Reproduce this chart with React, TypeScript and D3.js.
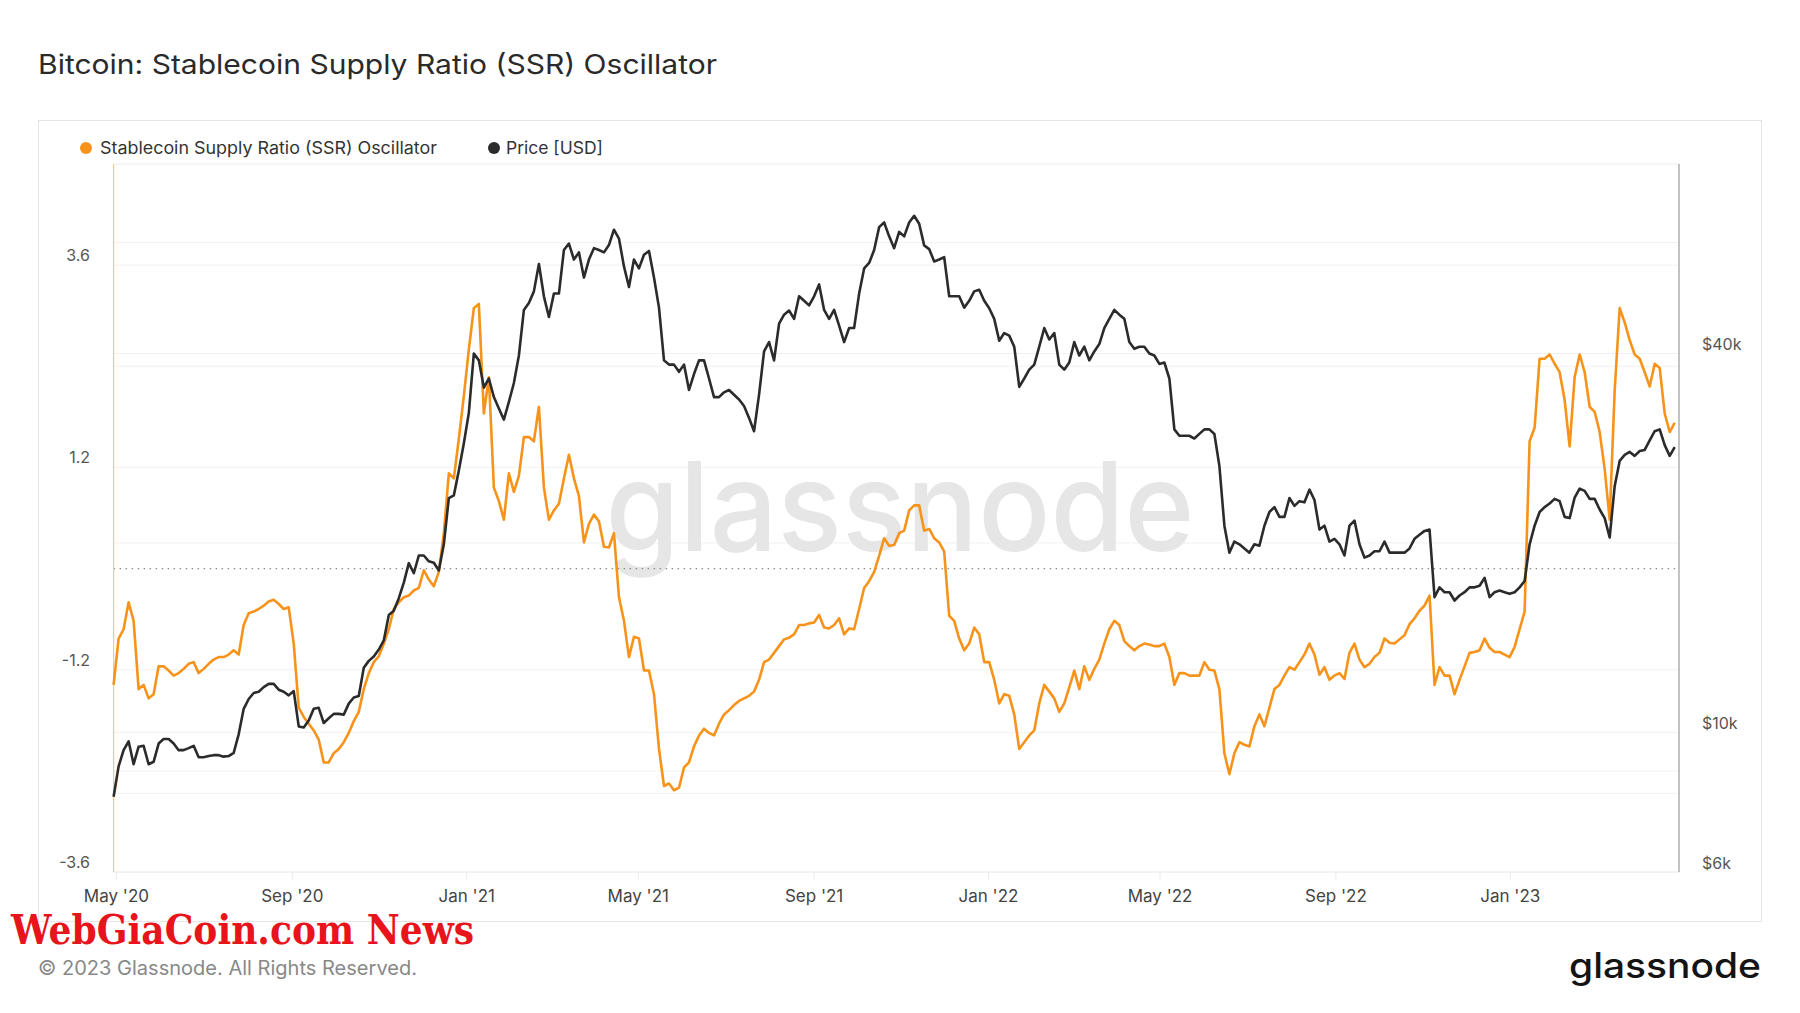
import React from "react";
import * as d3 from "d3";

// readings every half week (84 hours), first point on START_DATE
const START_DATE = "2020-04-29";
const END_DATE = "2023-04-29";
const STEP_HOURS = 84;

// Stablecoin Supply Ratio (SSR) Oscillator
const ssrValues = [
  -1.38, -0.83, -0.72, -0.4, -0.62, -1.43, -1.38, -1.54, -1.49, -1.16,
  -1.16, -1.21, -1.27, -1.24, -1.19, -1.13, -1.11, -1.24, -1.19, -1.13,
  -1.08, -1.05, -1.05, -1.02, -0.97, -1.02, -0.67, -0.53, -0.51, -0.48,
  -0.44, -0.39, -0.37, -0.42, -0.48, -0.46, -0.89, -1.65, -1.76, -1.84,
  -1.92, -2.03, -2.3, -2.3, -2.19, -2.14, -2.06, -1.95, -1.81, -1.7,
  -1.43, -1.24, -1.11, -1.04, -0.89, -0.72, -0.48, -0.4, -0.34, -0.32,
  -0.26, -0.23, -0.02, -0.13, -0.21, -0.04, 0.42, 1.13, 1.07, 1.54,
  2.05, 2.6, 3.09, 3.14, 1.84, 2.27, 0.96, 0.8, 0.58, 1.13,
  0.91, 1.1, 1.56, 1.56, 1.51, 1.92, 0.96, 0.58, 0.69, 0.77,
  1.07, 1.35, 1.07, 0.86, 0.31, 0.53, 0.64, 0.56, 0.26, 0.25,
  0.42, -0.34, -0.62, -1.05, -0.81, -0.83, -1.21, -1.21, -1.49, -2.14,
  -2.58, -2.55, -2.63, -2.6, -2.36, -2.3, -2.11, -1.98, -1.9, -1.95,
  -1.98, -1.84, -1.73, -1.68, -1.62, -1.57, -1.54, -1.51, -1.46, -1.32,
  -1.11, -1.08, -1.0, -0.92, -0.84, -0.82, -0.78, -0.67, -0.67, -0.65,
  -0.64, -0.55, -0.7, -0.71, -0.67, -0.59, -0.78, -0.71, -0.72, -0.48,
  -0.23, -0.15, -0.04, 0.15, 0.36, 0.27, 0.28, 0.42, 0.45, 0.69,
  0.75, 0.75, 0.45, 0.47, 0.36, 0.31, 0.2, -0.56, -0.62, -0.83,
  -0.97, -0.89, -0.7, -0.78, -1.11, -1.11, -1.32, -1.6, -1.49, -1.51,
  -1.73, -2.14, -2.06, -1.98, -1.92, -1.6, -1.38, -1.46, -1.54, -1.7,
  -1.6, -1.41, -1.21, -1.43, -1.16, -1.32, -1.19, -1.08, -0.89, -0.72,
  -0.62, -0.67, -0.86, -0.92, -0.97, -0.92, -0.89, -0.9, -0.92, -0.92,
  -0.89, -1.05, -1.38, -1.24, -1.24, -1.27, -1.27, -1.27, -1.11, -1.2,
  -1.21, -1.43, -2.19, -2.44, -2.19, -2.06, -2.09, -2.11, -1.87, -1.73,
  -1.87, -1.65, -1.43, -1.38, -1.27, -1.17, -1.2, -1.11, -1.02, -0.89,
  -1.02, -1.26, -1.17, -1.32, -1.27, -1.24, -1.31, -1.0, -0.89, -1.08,
  -1.17, -1.13, -1.05, -1.0, -0.83, -0.88, -0.89, -0.84, -0.79, -0.66,
  -0.59, -0.5, -0.44, -0.32, -1.38, -1.17, -1.27, -1.27, -1.49, -1.32,
  -1.16, -1.0, -0.99, -0.97, -0.83, -0.94, -0.99, -0.99, -1.02, -1.05,
  -0.93, -0.72, -0.51, 1.51, 1.67, 2.49, 2.49, 2.54, 2.43, 2.33,
  2.0, 1.45, 2.27, 2.54, 2.33, 1.92, 1.86, 1.62, 1.18, 0.58,
  2.11, 3.09, 2.92, 2.71, 2.54, 2.49, 2.33, 2.16, 2.43, 2.38,
  1.84, 1.62, 1.73,
];

// Price [USD]
const priceValues = [
  7900, 8830, 9370, 9680, 8900, 9490, 9520, 8900, 8980, 9600,
  9760, 9760, 9600, 9370, 9370, 9440, 9520, 9130, 9130, 9170,
  9200, 9200, 9150, 9170, 9280, 9930, 10900, 11300, 11550, 11600,
  11800, 11940, 11940, 11690, 11600, 11450, 11630, 10220, 10180, 10440,
  10900, 10940, 10350, 10530, 10700, 10700, 10670, 11110, 11360, 11420,
  12670, 12990, 13200, 13540, 14000, 15360, 15600, 16340, 17300, 18570,
  17900, 19100, 19100, 18700, 18600, 18080, 19900, 23570, 23800, 26070,
  28800, 32200, 40000, 39000, 35300, 36500, 34100, 32700, 31400, 33500,
  35900, 39700, 46900, 48100, 50200, 55500, 49300, 45700, 49800, 49800,
  58400, 59800, 56400, 57900, 52800, 56400, 58800, 58400, 57900, 59500,
  62900, 60900, 55000, 51000, 56400, 54600, 57400, 58200, 52800, 47300,
  39000, 38400, 38400, 37400, 38400, 35000, 37100, 39000, 39000, 36500,
  34100, 34100, 34700, 35000, 34400, 33800, 33000, 31600, 30100, 34400,
  40300, 41700, 39000, 44600, 46100, 46800, 45400, 49300, 48500, 47700,
  49300, 51500, 46900, 45400, 46900, 44300, 41700, 43900, 43900, 49800,
  54600, 55700, 58400, 63500, 64600, 61400, 58800, 62400, 61400, 64600,
  66200, 64300, 59400, 58600, 56000, 56400, 56900, 49300, 49300, 49300,
  47300, 48500, 50200, 50500, 48500, 47200, 45400, 41900, 43100, 42700,
  41000, 35400, 36500, 37700, 38400, 41000, 43900, 42100, 43100, 38400,
  37700, 38700, 41700, 39700, 41000, 39000, 40300, 41400, 43900, 45400,
  46900, 46100, 45400, 41700, 40700, 41000, 41000, 40000, 39700, 38500,
  38700, 36500, 30300, 29600, 29600, 29600, 29300, 29800, 30300, 30300,
  29800, 26500, 21300, 19300, 20100, 19900, 19600, 19300, 19900, 19800,
  21300, 22400, 22800, 22000, 22000, 23570, 22900, 23300, 23200, 24300,
  23400, 21000, 21300, 20100, 20300, 19900, 19100, 21300, 21700, 19900,
  18950, 19100, 19400, 19400, 20100, 19300, 19300, 19300, 19300, 19600,
  20300, 20600, 20900, 21000, 16400, 17000, 16700, 16700, 16200, 16500,
  16700, 17000, 17000, 17100, 17600, 16400, 16700, 16800, 16700, 16600,
  16700, 17000, 17400, 19900, 21300, 22400, 22800, 23100, 23500, 23300,
  22000, 21900, 23600, 24400, 24200, 23500, 23500, 22600, 21900, 20400,
  24600, 27000, 27600, 27900, 27500, 28000, 28100, 29100, 30100, 30300,
  28600, 27500, 28400,
];

const xTickDates = ["2020-05-01", "2020-09-01", "2021-01-01", "2021-05-01", "2021-09-01", "2022-01-01", "2022-05-01", "2022-09-01", "2023-01-01"];
const xTickLabels = ["May '20", "Sep '20", "Jan '21", "May '21", "Sep '21", "Jan '22", "May '22", "Sep '22", "Jan '23"];

const ssrTicks = [3.6, 1.2, -1.2, -3.6];
const ssrTickLabels = ["3.6", "1.2", "-1.2", "-3.6"];
const ssrGrid = [3.6, 2.4, 1.2, -1.2, -2.4];

const priceTicks = [40000, 10000, 6000];
const priceTickLabels = ["$40k", "$10k", "$6k"];
const priceGrid = [60000, 40000, 20000, 10000, 8000];

const seriesNames = ["Stablecoin Supply Ratio (SSR) Oscillator", "Price [USD]"];

const ORANGE = "#f7931a";
const DARK = "#2b2b2b";
const FONT = "Inter, 'Open Sans', sans-serif";

export default function App() {
  const width = 1800;
  const height = 1013;
  const plot = { left: 113.6, right: 1679, top: 164, bottom: 872 };

  const start = new Date(START_DATE);
  const dates = ssrValues.map((_, i) => d3.utcHour.offset(start, i * STEP_HOURS));

  const x = d3.scaleUtc().domain([start, new Date(END_DATE)]).range([plot.left, plot.right]);
  const yLeft = d3.scaleLinear().domain([-3.6, 4.8]).range([plot.bottom, plot.top]);
  const yRight = d3.scaleLog().domain([6000, 80000]).range([plot.bottom, plot.top]);

  const ssrLine = d3.line<number>()
    .x((_, i) => x(dates[i]))
    .y(d => yLeft(d));
  const priceLine = d3.line<number>()
    .x((_, i) => x(dates[i]))
    .y(d => yRight(d));

  return (
    <svg width={width} height={height} style={{ position: "absolute", left: 0, top: 0, background: "#fff" }} fontFamily={FONT}>
      <rect x={0} y={0} width={width} height={height} fill="#fff" />

      {/* Title */}
      <text x={38} y={74} fontSize={27} fontWeight={400} fill="#2a2a2a"
        textLength={679} lengthAdjust="spacingAndGlyphs">
        Bitcoin: Stablecoin Supply Ratio (SSR) Oscillator
      </text>

      {/* chart card */}
      <rect x={38.5} y={120.5} width={1723} height={801} fill="#fff" stroke="#e6e6e6" />

      {/* Legend */}
      <circle cx={86} cy={148} r={6} fill={ORANGE} />
      <text x={100} y={154} fontSize={17} fill="#333" textLength={337} lengthAdjust="spacingAndGlyphs">{seriesNames[0]}</text>
      <circle cx={494} cy={148} r={6} fill={DARK} />
      <text x={506} y={154} fontSize={17} fill="#333" textLength={97} lengthAdjust="spacingAndGlyphs">{seriesNames[1]}</text>

      {/* gridlines */}
      {ssrGrid.map(v => (
        <line key={`gl-${v}`} x1={plot.left} x2={plot.right} y1={yLeft(v)} y2={yLeft(v)} stroke="#f1f1f1" />
      ))}
      {priceGrid.map(v => (
        <line key={`gr-${v}`} x1={plot.left} x2={plot.right} y1={yRight(v)} y2={yRight(v)} stroke="#f1f1f1" />
      ))}
      <line x1={plot.left} x2={plot.right} y1={plot.top} y2={plot.top} stroke="#ececec" />
      <line x1={plot.left} x2={plot.right} y1={plot.bottom} y2={plot.bottom} stroke="#e4e4e4" />

      {/* watermark */}
      <text x={900} y={551} textAnchor="middle" fontSize={124} fontWeight={500} fill="#e6e6e6"
        textLength={589} lengthAdjust="spacingAndGlyphs">glassnode</text>

      {/* zero line */}
      <line x1={plot.left} x2={plot.right} y1={yLeft(0)} y2={yLeft(0)} stroke="#8a8a8a" strokeWidth={1.2} strokeDasharray="1.5 4.5" />

      {/* axis lines */}
      <line x1={plot.left} x2={plot.left} y1={plot.top} y2={plot.bottom} stroke="#f8c68c" strokeWidth={1.2} />
      <line x1={plot.right} x2={plot.right} y1={plot.top} y2={plot.bottom} stroke="#9a9a9a" strokeWidth={1.2} />

      {/* series */}
      <path d={ssrLine(ssrValues) ?? ""} fill="none" stroke={ORANGE} strokeWidth={2.6} strokeLinejoin="round" />
      <path d={priceLine(priceValues) ?? ""} fill="none" stroke={DARK} strokeWidth={2.6} strokeLinejoin="round" />

      {/* left axis labels */}
      {ssrTicks.map((v, i) => (
        <text key={`lt-${v}`} x={90} y={yLeft(v) - 4} textAnchor="end" fontSize={16} fill="#555">{ssrTickLabels[i]}</text>
      ))}

      {/* right axis labels */}
      {priceTicks.map((v, i) => (
        <text key={`rt-${v}`} x={1702} y={yRight(v) - 3} fontSize={16} fill="#555">{priceTickLabels[i]}</text>
      ))}

      {/* x axis */}
      {xTickDates.map((d, i) => {
        const tx = x(new Date(d));
        return (
          <g key={d}>
            <line x1={tx} x2={tx} y1={plot.bottom} y2={plot.bottom + 8} stroke="#ececec" />
            <text x={tx} y={902} textAnchor="middle" fontSize={17} fill="#444">{xTickLabels[i]}</text>
          </g>
        );
      })}

      {/* overlay caption */}
      <text x={11} y={944} fontSize={41} fontWeight={700} fill="#e8141b" fontFamily="'DejaVu Serif', serif"
        textLength={463} lengthAdjust="spacingAndGlyphs">WebGiaCoin.com News</text>

      {/* footer */}
      <text x={38} y={975} fontSize={19.5} fill="#888" textLength={379} lengthAdjust="spacingAndGlyphs">© 2023 Glassnode. All Rights Reserved.</text>
      <text x={1761} y={978} textAnchor="end" fontSize={35} fontWeight={500} fill="#141414"
        textLength={192} lengthAdjust="spacingAndGlyphs">glassnode</text>
    </svg>
  );
}
